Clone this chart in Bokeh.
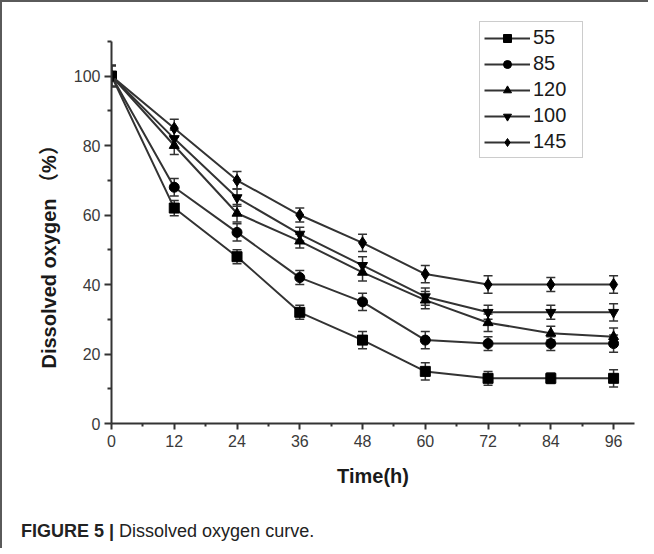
from bokeh.plotting import figure
from bokeh.models import (Range1d, FixedTicker, Legend, LegendItem, Whisker, TeeHead,
                          ColumnDataSource, Title, Div)
from bokeh.layouts import column
from bokeh.embed import file_html
from bokeh.resources import INLINE

time_h = [0, 12, 24, 36, 48, 60, 72, 84, 96]
series_names = ["55", "85", "120", "100", "145"]
markers = ["square", "circle", "triangle", "inverted_triangle", "diamond"]
do_55 = [100, 62, 48, 32, 24, 15, 13, 13, 13]
do_85 = [100, 68, 55, 42, 35, 24, 23, 23, 23]
do_120 = [100, 80, 60.5, 52.5, 43.5, 35.5, 29, 26, 25]
do_100 = [100, 82, 65, 54.5, 45.5, 36.5, 32, 32, 32]
do_145 = [100, 85, 70, 60, 52, 43, 40, 40, 40]
err_55 = [3, 2.2, 2, 2, 2.5, 2.5, 2, 1.5, 2.5]
err_85 = [3, 2.5, 2.5, 2, 2.5, 2.5, 2, 2, 2.5]
err_120 = [3, 2.6, 2.5, 2, 2.5, 2.5, 2.5, 2, 2.5]
err_100 = [3, 2.5, 2.5, 2, 2.5, 2.5, 2, 2, 2.5]
err_145 = [3, 2.6, 2.5, 2, 2.5, 2.5, 2.5, 2, 2.5]
x_ticks = [0, 12, 24, 36, 48, 60, 72, 84, 96]
x_minor = [6, 18, 30, 42, 54, 66, 78, 90]
y_ticks = [0, 20, 40, 60, 80, 100]
y_minor = [10, 30, 50, 70, 90, 110]

values = [do_55, do_85, do_120, do_100, do_145]
errors = [err_55, err_85, err_120, err_100, err_145]

DARK = "#333333"
FONT = "Liberation Sans"

p = figure(width=636, height=500, output_backend="svg", toolbar_location=None,
           x_range=Range1d(0, 100), y_range=Range1d(0, 118),
           min_border_left=109, min_border_right=4, min_border_top=11, min_border_bottom=79)
p.outline_line_color = None
p.xgrid.visible = False
p.ygrid.visible = False
p.background_fill_color = "white"
p.border_fill_color = "white"

p.xaxis.ticker = FixedTicker(ticks=x_ticks, minor_ticks=x_minor)
p.yaxis.ticker = FixedTicker(ticks=y_ticks, minor_ticks=y_minor)
p.yaxis.bounds = (0, 110)
for ax in (p.xaxis[0], p.yaxis[0]):
    ax.axis_line_color = DARK
    ax.axis_line_width = 2
    ax.major_tick_line_color = DARK
    ax.major_tick_line_width = 2
    ax.minor_tick_line_color = DARK
    ax.minor_tick_line_width = 2
    ax.major_tick_in = 0
    ax.minor_tick_in = 0
    ax.major_label_text_font = FONT
    ax.major_label_text_font_size = "16px"
    ax.major_label_text_color = "#3a3a3a"

p.xaxis.major_tick_out = 6
p.xaxis.minor_tick_out = 3
p.yaxis.major_tick_out = 7
p.yaxis.minor_tick_out = 4
p.xaxis.major_label_standoff = 5
p.yaxis.major_label_standoff = 4
p.xaxis.axis_label = "Time(h)"
p.xaxis.axis_label_text_font = FONT
p.xaxis.axis_label_text_font_style = "bold"
p.xaxis.axis_label_text_font_size = "20px"
p.xaxis.axis_label_text_color = "#1a1a1a"
p.xaxis.axis_label_standoff = 15

ytitle = Title(text="Dissolved oxygen （%）", align="left", offset=55,
               text_font="Liberation Sans, Noto Sans CJK SC", text_font_style="bold",
               text_font_size="20px", text_color="#1a1a1a", standoff=22)
p.add_layout(ytitle, "left")

items = []
for name, mk, vals, errs in zip(series_names, markers, values, errors):
    src = ColumnDataSource(dict(x=time_h, y=vals,
                                upper=[v + e for v, e in zip(vals, errs)],
                                lower=[v - e for v, e in zip(vals, errs)]))
    lr = p.line("x", "y", source=src, line_color=DARK, line_width=2)
    w = Whisker(source=src, base="x", upper="upper", lower="lower",
                line_color=DARK, line_width=1.5,
                upper_head=TeeHead(size=9, line_color=DARK, line_width=1.5),
                lower_head=TeeHead(size=9, line_color=DARK, line_width=1.5))
    p.add_layout(w)
    size = 12 if mk == "diamond" else 10
    sr = p.scatter("x", "y", source=src, marker=mk, size=size,
                   fill_color="black", line_color="black")
    items.append(LegendItem(label=name, renderers=[lr, sr]))

legend = Legend(items=items, location=(368, 265), orientation="vertical",
                label_text_font=FONT, label_text_font_size="20px", label_text_color="#1a1a1a",
                glyph_width=46, glyph_height=20, label_height=20, label_width=45, spacing=3,
                padding=4, margin=0, label_standoff=3,
                border_line_color="#9a9a9a", border_line_width=1,
                background_fill_color="white", background_fill_alpha=1.0)
p.add_layout(legend, "center")

caption = Div(text=("<div style=\"font-family:'Liberation Sans',Arial,sans-serif;font-size:18px;"
                    "color:#222;line-height:22px;padding:13px 0 0 14px;white-space:nowrap;\">"
                    "<b>FIGURE 5 |</b> Dissolved oxygen curve.</div>"),
              width=636, height=36)

layout = column(p, caption, spacing=0)
layout.styles = {"border-top": "2px solid #5a5a5a", "border-left": "2px solid #5a5a5a"}

open("out.html", "w").write(file_html(layout, INLINE))
